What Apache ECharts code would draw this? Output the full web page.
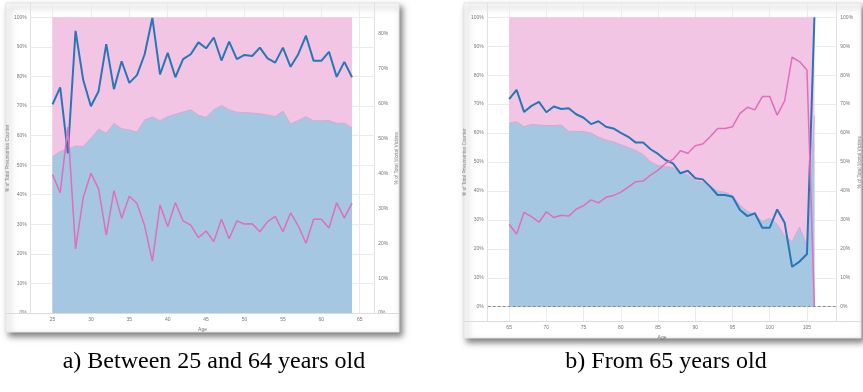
<!DOCTYPE html>
<html>
<head>
<meta charset="utf-8">
<script src="https://cdn.jsdelivr.net/npm/echarts@6/dist/echarts.min.js"></script>
<style>
  html, body { margin: 0; padding: 0; background: #ffffff; }
  #chart { width: 863px; height: 392px; }
</style>
</head>
<body>
<div id="chart"></div>
<script>
// ---- Panel a: ages 25 to 64 ----
const adultAges = [25, 26, 27, 28, 29, 30, 31, 32, 33, 34, 35, 36, 37, 38, 39, 40, 41, 42, 43, 44,
                   45, 46, 47, 48, 49, 50, 51, 52, 53, 54, 55, 56, 57, 58, 59, 60, 61, 62, 63, 64];
// share of pneumonia cases (men), %
const adultPneumoniaMen = [52.9, 54.6, 55.4, 56.5, 56.3, 59.1, 62.2, 60.8, 64.1, 62.3, 61.9, 61.2, 65.3, 66.3, 65.0, 66.4, 67.2, 68.0, 68.7, 66.9,
                           66.2, 68.7, 70.2, 68.7, 67.9, 67.8, 67.6, 67.4, 67.0, 66.4, 68.3, 63.9, 65.1, 66.4, 65.0, 65.0, 65.1, 64.2, 64.2, 62.6];
// share of deaths (men), %
const adultVictimsMen = [59.8, 64.7, 45.8, 80.9, 66.8, 59.3, 63.6, 77.1, 64.2, 72.2, 66.0, 68.2, 74.2, 84.6, 68.4, 74.6, 67.6, 72.8, 74.2, 77.6,
                         75.9, 79.0, 72.4, 77.8, 72.8, 74.0, 73.7, 76.1, 73.0, 71.8, 76.1, 70.6, 74.2, 79.5, 72.3, 72.3, 74.9, 67.7, 72.0, 67.6];
// share of deaths (women), %
const adultVictimsWomen = [39.7, 34.5, 53.3, 18.4, 33.1, 40.1, 35.6, 22.3, 35.1, 27.2, 33.5, 31.4, 25.0, 14.9, 31.0, 24.8, 31.6, 26.4, 25.2, 21.6,
                           23.5, 20.5, 26.9, 21.3, 26.4, 25.5, 25.6, 23.3, 26.2, 27.7, 23.3, 28.7, 25.0, 20.0, 26.9, 26.9, 24.4, 31.6, 27.3, 31.5];

// ---- Panel b: ages 65 to 106 ----
const elderAges = [65, 66, 67, 68, 69, 70, 71, 72, 73, 74, 75, 76, 77, 78, 79, 80, 81, 82, 83, 84, 85,
                   86, 87, 88, 89, 90, 91, 92, 93, 94, 95, 96, 97, 98, 99, 100, 101, 102, 103, 104, 105, 106];
const elderPneumoniaMen = [63.4, 63.9, 62.2, 63.0, 62.8, 62.6, 62.6, 62.8, 60.6, 60.6, 60.5, 60.0, 58.6, 57.6, 57.0, 56.0, 55.0, 54.0, 52.6, 50.0, 48.8,
                           48.4, 48.0, 46.0, 45.5, 43.5, 43.0, 41.5, 40.0, 39.5, 38.5, 35.0, 33.0, 31.5, 29.5, 30.5, 28.5, 24.5, 22.5, 27.5, 21.0, 66.0];
const elderVictimsMen = [71.7, 74.9, 67.3, 69.4, 70.8, 67.2, 69.2, 68.3, 68.6, 66.5, 65.3, 63.1, 64.1, 62.2, 61.6, 60.1, 58.7, 56.7, 56.7, 54.4, 52.8,
                         50.7, 49.5, 46.1, 47.0, 44.4, 44.0, 41.5, 38.6, 38.6, 38.0, 33.4, 31.3, 32.3, 27.3, 27.3, 33.6, 29.0, 13.8, 15.6, 18.2, 100.0];
const elderVictimsWomen = [28.5, 25.1, 32.6, 31.1, 29.2, 32.8, 30.8, 31.6, 31.3, 33.7, 34.9, 36.9, 35.9, 37.8, 38.4, 39.6, 41.3, 43.2, 43.4, 45.5, 47.2,
                           49.5, 50.9, 53.9, 53.0, 55.6, 56.2, 58.7, 61.6, 61.6, 62.2, 66.8, 68.9, 68.0, 72.6, 72.6, 66.2, 71.1, 86.2, 84.7, 81.8, 0.0];

// men + women pneumonia shares always add up to the full 100 %
const TOTAL_SHARE = 100;

// tick labels
const adultAgeTicks = [25, 30, 35, 40, 45, 50, 55, 60, 65];
const elderAgeTicks = [65, 70, 75, 80, 85, 90, 95, 100, 105];
const pctTicks = [0, 10, 20, 30, 40, 50, 60, 70, 80, 90, 100];
const victimTicksAdult = [0, 10, 20, 30, 40, 50, 60, 70, 80];

const captions = ['a) Between 25 and 64 years old', 'b) From 65 years old'];

// ---- styling ----
const PINK_AREA = '#F3C5E4';
const BLUE_AREA = '#A5C7E1';
const BLUE_LINE = '#2677B5';
const PINK_LINE = '#E06DBE';
const GRID_COLOR = '#EBEBEB';
const LABEL_COLOR = '#777777';
const FONT = 'Liberation Sans';

const pair = (xs, ys) => xs.map((x, i) => [x, ys[i]]);
const pct = v => v + '%';

function xAxisFor(gridIndex, min, max, ticks) {
  return {
    type: 'value', gridIndex, min, max,
    name: 'Age', nameLocation: 'middle', nameGap: 12,
    nameTextStyle: { fontFamily: FONT, fontSize: 5, color: LABEL_COLOR },
    axisLine: { show: false },
    axisTick: { show: false, customValues: ticks },
    axisLabel: { customValues: ticks, fontFamily: FONT, fontSize: 5, color: LABEL_COLOR, margin: 4 },
    splitLine: { show: true, lineStyle: { color: GRID_COLOR, width: 1 } }
  };
}

function yAxisFor(gridIndex, position, min, max, ticks, name, withGrid) {
  return {
    type: 'value', gridIndex, position, min, max,
    name, nameLocation: 'middle', nameGap: 20,
    nameTextStyle: { fontFamily: FONT, fontSize: 4.8, color: '#888888' },
    axisLine: { show: true, lineStyle: { color: '#E2E2E2', width: 1 } },
    axisTick: { show: false, customValues: ticks },
    axisLabel: { customValues: ticks, formatter: pct, fontFamily: FONT, fontSize: 5, color: LABEL_COLOR, margin: 4 },
    splitLine: { show: withGrid, lineStyle: { color: GRID_COLOR, width: 1 } }
  };
}

function panelSeries(xi, yLeft, yRight, ages, pneu, vMen, vWomen, zeroLine) {
  const band = {
    type: 'line', xAxisIndex: xi, yAxisIndex: yLeft, z: 1,
    data: ages.map(a => [a, TOTAL_SHARE]),
    symbol: 'none', lineStyle: { width: 0 },
    areaStyle: { color: PINK_AREA, opacity: 1 }
  };
  const area = {
    type: 'line', xAxisIndex: xi, yAxisIndex: yLeft, z: 2,
    data: pair(ages, pneu),
    symbol: 'none', lineStyle: { width: 1, color: '#D7AACF' },
    areaStyle: { color: BLUE_AREA, opacity: 1 }
  };
  if (zeroLine) {
    area.markLine = {
      silent: true, symbol: 'none', label: { show: false },
      lineStyle: { type: [3, 2], color: '#8A8A8A', width: 1 },
      data: [{ yAxis: 0 }]
    };
  }
  const men = {
    type: 'line', xAxisIndex: xi, yAxisIndex: yRight, z: 3,
    data: pair(ages, vMen),
    symbol: 'none', lineStyle: { width: 2, color: BLUE_LINE }
  };
  const women = {
    type: 'line', xAxisIndex: xi, yAxisIndex: yRight, z: 4,
    data: pair(ages, vWomen),
    symbol: 'none', lineStyle: { width: 1.5, color: PINK_LINE }
  };
  return [band, area, men, women];
}

// card backgrounds with drop shadow, plus full-width baseline of each panel
const cards = [
  { type: 'rect', z: -5, shape: { x: 6, y: 3, width: 393, height: 329 },
    style: { fill: '#ffffff', stroke: '#E4E4E4', lineWidth: 1,
             shadowBlur: 6, shadowOffsetX: 3, shadowOffsetY: 4, shadowColor: 'rgba(0,0,0,0.5)' } },
  { type: 'rect', z: -5, shape: { x: 464, y: 3, width: 397, height: 335 },
    style: { fill: '#ffffff', stroke: '#E4E4E4', lineWidth: 1,
             shadowBlur: 6, shadowOffsetX: 3, shadowOffsetY: 4, shadowColor: 'rgba(0,0,0,0.5)' } },
  { type: 'line', z: 10, shape: { x1: 6, y1: 313.5, x2: 399, y2: 313.5 },
    style: { stroke: '#DCDCDC', lineWidth: 1 } },
  { type: 'line', z: 10, shape: { x1: 464, y1: 321.5, x2: 861, y2: 321.5 },
    style: { stroke: '#DCDCDC', lineWidth: 1 } }
];

const captionStyle = { fontFamily: 'Liberation Serif', fontSize: 24, fontWeight: 'normal', color: '#000000' };

const chart = echarts.init(document.getElementById('chart'), null, { renderer: 'canvas' });
chart.setOption({
  animation: false,
  backgroundColor: '#ffffff',
  title: [
    { text: captions[0], left: 209, top: 345, textAlign: 'center', textStyle: captionStyle },
    { text: captions[1], left: 661, top: 345, textAlign: 'center', textStyle: captionStyle }
  ],
  graphic: cards,
  grid: [
    { left: 30.7, width: 343.6, top: 3.5, height: 309.5 },
    { left: 487.7, width: 351.6, top: 3.5, height: 317.5 }
  ],
  xAxis: [
    xAxisFor(0, 22.16, 66.9, adultAgeTicks),
    xAxisFor(1, 62.12, 108.94, elderAgeTicks)
  ],
  yAxis: [
    yAxisFor(0, 'left', 0, 104.67, pctTicks, '% of Total Pneumonias Counter', true),
    yAxisFor(0, 'right', 0, 88.75, victimTicksAdult, '% of Total Mortal Victims', false),
    yAxisFor(1, 'left', -4.94, 104.77, pctTicks, '% of Total Pneumonias Counter', true),
    yAxisFor(1, 'right', -4.94, 104.77, pctTicks, '% of Total Mortal Victims', false)
  ],
  series: [
    ...panelSeries(0, 0, 1, adultAges, adultPneumoniaMen, adultVictimsMen, adultVictimsWomen, false),
    ...panelSeries(1, 2, 3, elderAges, elderPneumoniaMen, elderVictimsMen, elderVictimsWomen, true)
  ]
});
</script>
</body>
</html>
